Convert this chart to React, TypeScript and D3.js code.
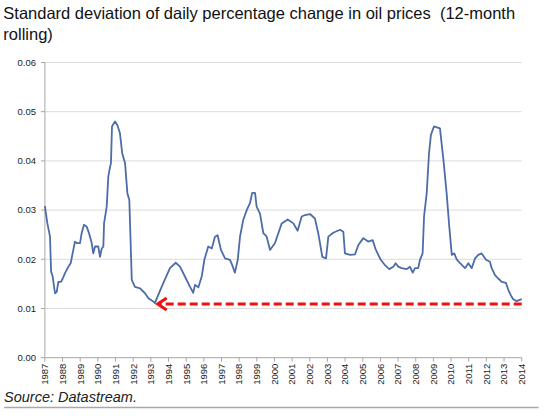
import React from "react";
import * as d3 from "d3";

const TITLE_LINES = ["Standard deviation of daily percentage change in oil prices  (12-month", "rolling)"];
const SOURCE = "Source: Datastream.";
const YEARS = d3.range(1987, 2015);
const Y_TICKS = [0, 0.01, 0.02, 0.03, 0.04, 0.05, 0.06];

// time (decimal year) and 12-month rolling std dev
const T = [
  1987.0, 1987.14, 1987.29, 1987.35, 1987.44, 1987.57, 1987.67, 1987.76, 1987.91, 1988.01,
  1988.14, 1988.33, 1988.46, 1988.57, 1988.7, 1988.8, 1988.99, 1989.08, 1989.21, 1989.37,
  1989.5, 1989.65, 1989.74, 1989.84, 1990.02, 1990.12, 1990.22, 1990.31, 1990.35, 1990.5,
  1990.59, 1990.69, 1990.74, 1990.8, 1990.97, 1991.1, 1991.25, 1991.38, 1991.54, 1991.67,
  1991.78, 1991.92, 1992.1, 1992.39, 1992.67, 1992.86, 1993.18, 1993.23, 1993.61, 1994.08,
  1994.41, 1994.65, 1994.93, 1995.22, 1995.4, 1995.5, 1995.69, 1995.88, 1996.03, 1996.25,
  1996.45, 1996.63, 1996.78, 1996.97, 1997.2, 1997.48, 1997.61, 1997.76, 1997.92, 1998.05,
  1998.23, 1998.43, 1998.61, 1998.74, 1998.9, 1998.99, 1999.18, 1999.37, 1999.56, 1999.75,
  2000.03, 2000.41, 2000.75, 2001.07, 2001.31, 2001.54, 2001.73, 2002.01, 2002.29, 2002.48,
  2002.71, 2002.92, 2003.05, 2003.33, 2003.71, 2003.9, 2003.99, 2004.28, 2004.56, 2004.75,
  2005.03, 2005.31, 2005.56, 2005.73, 2006.02, 2006.26, 2006.5, 2006.73, 2006.86, 2007.01,
  2007.2, 2007.49, 2007.67, 2007.83, 2007.96, 2008.14, 2008.24, 2008.39, 2008.47, 2008.62,
  2008.75, 2008.86, 2009.03, 2009.37, 2009.56, 2009.75, 2009.9, 2010.04, 2010.18, 2010.32,
  2010.51, 2010.79, 2010.98, 2011.17, 2011.36, 2011.54, 2011.73, 2011.98, 2012.2, 2012.3,
  2012.49, 2012.67, 2012.87, 2013.11, 2013.24, 2013.38, 2013.52, 2013.71, 2014.0,
];
const STDEV = [
  0.0308, 0.0273, 0.0246, 0.0175, 0.0165, 0.0131, 0.0134, 0.0154, 0.0154, 0.0161,
  0.0172, 0.0185, 0.0192, 0.0212, 0.0236, 0.0233, 0.0233, 0.0253, 0.027, 0.0266,
  0.0253, 0.0233, 0.0212, 0.0226, 0.0226, 0.0205, 0.0222, 0.0226, 0.0273, 0.0307,
  0.0368, 0.0388, 0.0395, 0.047, 0.048, 0.0473, 0.0456, 0.0415, 0.0395, 0.0334,
  0.0321, 0.0158, 0.0144, 0.0141, 0.0131, 0.0121, 0.0113, 0.0111, 0.0144, 0.0182,
  0.0193, 0.0185, 0.0165, 0.0144, 0.0132, 0.0148, 0.0143, 0.0165, 0.0199, 0.0226,
  0.0222, 0.0246, 0.0249, 0.0219, 0.0202, 0.0199, 0.0188, 0.0173, 0.0199, 0.0246,
  0.028, 0.03, 0.0314, 0.0335, 0.0335, 0.0307, 0.0293, 0.0253, 0.0246, 0.0219,
  0.0233, 0.0273, 0.0281, 0.0273, 0.0258, 0.0287, 0.029, 0.0292, 0.0283, 0.0253,
  0.0205, 0.0202, 0.0246, 0.0254, 0.026, 0.0256, 0.0212, 0.0209, 0.021, 0.0229,
  0.0243, 0.0236, 0.0239, 0.022, 0.0199, 0.0188, 0.018, 0.0185, 0.0192, 0.0185,
  0.0182, 0.018, 0.0185, 0.0173, 0.0182, 0.0182, 0.0199, 0.0212, 0.0287, 0.0334,
  0.0415, 0.0453, 0.047, 0.0466, 0.0405, 0.0334, 0.0266, 0.0209, 0.0212, 0.02,
  0.0192, 0.0182, 0.0192, 0.0182, 0.0202, 0.0209, 0.0212, 0.0199, 0.0195, 0.0182,
  0.0168, 0.0161, 0.0154, 0.0152, 0.0138, 0.0127, 0.0119, 0.0115, 0.0119,
];

// arrow: from latest reading back to 1993 low
const ARROW_FROM = 2014.0;
const ARROW_TO = 1993.33;
const ARROW_LEVEL = 0.0109;

export default function App() {
  const W = 550;
  const H = 416;
  const x = d3.scaleLinear().domain([1987, 2014]).range([44.9, 521.7]);
  const y = d3.scaleLinear().domain([0, 0.06]).range([357.7, 62.5]);
  const data = T.map((t, i) => [t, STDEV[i]] as [number, number]);
  const line = d3
    .line<[number, number]>()
    .x((d) => x(d[0]))
    .y((d) => y(d[1]))
    .curve(d3.curveLinear);

  const ax0 = x(ARROW_FROM);
  const ax1 = x(ARROW_TO);
  const ay = y(ARROW_LEVEL);
  const red = "#f01010";

  return (
    <svg
      width={W}
      height={H}
      style={{ position: "absolute", left: 0, top: 0, background: "#fff" }}
      fontFamily="'Liberation Sans', Arial, sans-serif"
    >
      {TITLE_LINES.map((t, i) => (
        <text key={i} x={3.3} y={19.3 + i * 20.5} fontSize={16.5} fill="#111" style={{ whiteSpace: "pre" }}>
          {t}
        </text>
      ))}

      {/* gridlines */}
      {Y_TICKS.filter((v) => v > 0).map((v) => (
        <line key={v} x1={x(1987)} x2={x(2014)} y1={y(v)} y2={y(v)} stroke="#dcdcdc" strokeWidth={1} />
      ))}

      {/* y axis */}
      <line x1={x(1987)} x2={x(1987)} y1={y(0.06)} y2={y(0)} stroke="#a6a6a6" strokeWidth={1} />
      {Y_TICKS.map((v) => (
        <g key={v}>
          <line x1={x(1987) - 4} x2={x(1987)} y1={y(v)} y2={y(v)} stroke="#a6a6a6" strokeWidth={1} />
          <text x={36} y={y(v)} dy="0.35em" textAnchor="end" fontSize={9.5} fill="#222">
            {d3.format(".2f")(v)}
          </text>
        </g>
      ))}

      {/* x axis */}
      <line x1={x(1987)} x2={x(2014)} y1={y(0)} y2={y(0)} stroke="#a6a6a6" strokeWidth={1} />
      {YEARS.map((yr) => (
        <g key={yr}>
          <line x1={x(yr)} x2={x(yr)} y1={y(0)} y2={y(0) + 4} stroke="#a6a6a6" strokeWidth={1} />
          <text
            transform={`translate(${x(yr)},${y(0) + 6}) rotate(-90)`}
            textAnchor="end"
            dy="0.35em"
            fontSize={9.5}
            fill="#222"
          >
            {yr}
          </text>
        </g>
      ))}

      {/* series */}
      <path d={line(data) ?? ""} fill="none" stroke="#4e6ca8" strokeWidth={1.8} strokeLinejoin="round" />

      {/* red dashed arrow */}
      <line x1={ax0} x2={ax1 + 3} y1={ay} y2={ay} stroke={red} strokeWidth={3} strokeDasharray="8,4" />
      <path
        d={`M${ax1 + 10},${ay - 6} L${ax1 + 1},${ay} L${ax1 + 10},${ay + 6}`}
        fill="none"
        stroke={red}
        strokeWidth={3}
      />

      {/* source */}
      <text x={4} y={402} fontSize={14.5} fontStyle="italic" fill="#222">
        {SOURCE}
      </text>
      <line x1={4} x2={538.6} y1={407.5} y2={407.5} stroke="#a8a8a8" strokeWidth={1.5} />
    </svg>
  );
}
